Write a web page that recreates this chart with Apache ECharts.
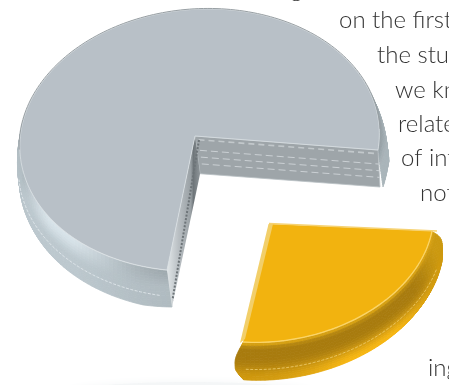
<!DOCTYPE html>
<html>
<head>
<meta charset="utf-8">
<style>html,body{margin:0;padding:0;background:#fff;overflow:hidden}#c{width:449px;height:385px}</style>
<script src="https://cdn.jsdelivr.net/npm/echarts@6/dist/echarts.min.js"></script>
</head>
<body>
<div id="c"></div>
<script>
// Two-slice solid pie with an exploded wedge, and the body copy running behind it.
const sliceNames = ['Remainder', 'Highlighted share'];
const sliceShares = [75, 25];
const copyLines = ['g', 'on the first', 'the stud', 'we kn', 'relate', 'of int', 'not', 'ing'];

const TAU = Math.PI * 2;
// Slices run clockwise on screen; the highlighted share starts on the +u axis.
const shareTotal = sliceShares.reduce((a, b) => a + b, 0);
function sliceSweep(i) {
  const sweep = sliceShares[i] / shareTotal * 360;
  // The highlighted wedge occupies the gap left by the remainder.
  return i === 1 ? [0, sweep] : [360 - sweep, 360];
}

const views = [
  { c: [195, 136], u: [183, 14], v: [-28, 134], t: [5, 37], p: -0.03, q: -0.028, bulge: 0.028, taper: 9, ext: 0 },
  { c: [270, 224], u: [162, 7], v: [-27, 118], t: [2, 34], p: -0.02, q: -0.02, bulge: 0.05, taper: 0, ext: 2.6 }
];

function project(view, deg, s, d) {
  const a = deg * TAU / 360;
  const cu = Math.cos(a) * s, cv = Math.sin(a) * s;
  const w = 1 + view.p * cu + view.q * cv;
  const ku = (1 + view.p) / w, kv = (1 + view.q) / w;
  return [
    view.c[0] + cu * view.u[0] * ku + cv * view.v[0] * kv + view.t[0] * d,
    view.c[1] + cu * view.u[1] * ku + cv * view.v[1] * kv + view.t[1] * d
  ];
}

function rgbOf(c) {
  return Array.isArray(c) ? c : [1, 3, 5].map(i => parseInt(c.substr(i, 2), 16));
}
function mixRaw(a, b, k) {
  k = Math.max(0, Math.min(1, k));
  const x = rgbOf(a), y = rgbOf(b);
  return x.map((v, i) => v + (y[i] - v) * k);
}
function css(c) { return 'rgb(' + c.map(Math.round).join(',') + ')'; }
function smooth(a, b, x) {
  const k = Math.max(0, Math.min(1, (x - a) / (b - a)));
  return k * k * (3 - 2 * k);
}
function bump(x, m, w) { return Math.exp(-Math.pow((x - m) / w, 2)); }

// Cross-section of the rim: radial swell against fraction of the height.
function rimSection(k) {
  const swell = Math.sin(Math.min(1, k / 0.55) * Math.PI / 2);
  const tuck = smooth(0.88, 1, k);
  return { s: swell - 0.35 * tuck, d: 0.02 + k * 0.98 };
}

function rimShadeNeutral(deg, k) {
  const glow = bump(deg, 130, 27);
  const near = mixRaw('#8f999e', '#d8e3e9', 0.1 + 0.95 * glow);
  const far = mixRaw('#a6b0b5', '#bcc8ce', 0.2 + 0.9 * bump(deg, 138, 42));
  return mixRaw(near, far, smooth(0, 0.5, k));
}
function rimShadeGold(deg, k) {
  const glow = bump(deg, 45, 24);
  const deep = mixRaw('#a87b0e', '#cf9c10', smooth(26, 4, deg) * 0.9);
  const low = mixRaw('#c4900d', '#f6b613', 0.2 + 0.95 * glow);
  const lip = mixRaw('#dca514', deep, smooth(0, 0.14, k));
  return mixRaw(lip, low, smooth(0.3, 0.92, k));
}
const shaders = [rimShadeNeutral, rimShadeGold];

// The wedge's ends bow outward mid-height, so their corners read as rounded.
function endBow(k) {
  return Math.sin(Math.min(1, k / 0.45) * Math.PI / 2) * (1 - 0.55 * smooth(0.6, 1, k));
}

function drawRim(i, from, to, kids) {
  const view = views[i];
  const da = 1.5, layers = 16;
  for (let a = from - view.ext; a < to + view.ext; a += da) {
    const b = Math.min(a + da, to + view.ext);
    for (let j = 0; j < layers; j++) {
      const k0 = j / layers, k1 = (j + 1) / layers;
      const pts = [[a, k0], [b, k0], [b, k1], [a, k1]].map(([deg, k]) => {
        const sec = rimSection(k);
        const edge = view.taper ? Math.min(1, Math.min(deg - from, to - deg) / view.taper) : 1;
        const over = view.ext ? Math.max(0, deg - to, from - deg) / view.ext : 0;
        const side = deg > to ? 1 : (deg < from ? -1 : 0);
        const bowed = side === 0 ? deg : (side > 0 ? to : from) + (deg - (side > 0 ? to : from)) * endBow(k);
        const drop = sec.d * (1 - 0.12 * over * over * smooth(0.5, 1, k));
        return project(view, bowed, 1 + view.bulge * sec.s * edge, drop);
      });
      const col = css(shaders[i]((a + b) / 2, (k0 + k1) / 2));
      kids.push({ type: 'polygon', shape: { points: pts },
        style: { fill: col, stroke: col, lineWidth: 0.8 } });
    }
  }
}

function arcPoints(view, from, to, s, d) {
  const pts = [];
  for (let a = from; a <= to + 0.01; a += 1.5) pts.push(project(view, a, s, d));
  return pts;
}

function stitch(view, from, to, s, d, color) {
  return { type: 'polyline', shape: { points: arcPoints(view, from, to, s, d) },
    style: { fill: null, stroke: color, lineWidth: 0.8, lineDash: [3, 1.5] } };
}

function drawNeutral(range, kids) {
  const view = views[0];
  const [from, to] = range;
  drawRim(0, from, to, kids);

  const apex = project(view, 0, 0, 0), apexLow = project(view, 0, 0, 1.02);
  const rimR = project(view, to, 1, 0), rimRLow = project(view, to, 1, 1);
  const rimB = project(view, from, 1, 0), rimBLow = project(view, from, 1, 1);
  rimRLow[0] -= 3; // the far end of the wall leans in slightly under perspective
  const lerp = (a, b, k) => [a[0] + (b[0] - a[0]) * k, a[1] + (b[1] - a[1]) * k];

  // Long cut face, with its horizontal seams.
  kids.push({ type: 'polygon', shape: { points: [apex, rimR, rimRLow, apexLow] },
    style: { fill: '#9ea5a9', stroke: '#b9c0c4', lineWidth: 0.8 } });
  [[0.1, '#c2c8cb', 6, 4, 1.6], [0.38, '#d6dbde', 7, 4, 0.8], [0.56, '#d6dbde', 7, 4, 0.8], [0.74, '#d6dbde', 7, 4, 0.8]].forEach(r => {
    kids.push({ type: 'line', shape: {
      x1: lerp(apex, apexLow, r[0])[0] + 3, y1: lerp(apex, apexLow, r[0])[1],
      x2: lerp(rimR, rimRLow, r[0])[0], y2: lerp(rimR, rimRLow, r[0])[1] },
      style: { stroke: r[1], lineWidth: r[4], lineDash: [r[2], r[3]] } });
  });

  // Short cut face seen at a glancing angle.
  kids.push({ type: 'polygon', shape: { points: [apex, rimB, rimBLow, apexLow] },
    style: { fill: { type: 'linear', x: 0, y: 0, x2: 1, y2: 0, colorStops: [
      { offset: 0, color: '#e1e6e8' }, { offset: 0.35, color: '#b9bfc3' }, { offset: 0.72, color: '#99a0a4' }, { offset: 0.8, color: '#6f767a' }, { offset: 1, color: '#8f969a' }] } } });
  kids.push({ type: 'line', shape: { x1: apex[0] + 4, y1: apex[1] + 4, x2: rimB[0] + 5.5, y2: rimB[1] + 30 },
    style: { stroke: '#6d7478', lineWidth: 2, lineDash: [2, 1.6] } });

  // Stitching on the outer wall.
  kids.push(stitch(view, 93, 165, 1.026, 0.62, '#e4ebef'));

  // Flat top face.
  const top = [apex].concat(arcPoints(view, from, to, 1, 0));
  kids.push({ type: 'polygon', shape: { points: top },
    style: { fill: '#b8c0c7', stroke: '#d9dfe3', lineWidth: 0.8 } });
  // Soft dark lip on the far edge of the top face.
  kids.push({ type: 'polyline', shape: { points: arcPoints(view, 168, 352, 1.004, 0) },
    style: { fill: null, stroke: '#989fa3', lineWidth: 1 } });
}

function drawGold(range, kids) {
  const view = views[1];
  const [from, to] = range;
  drawRim(1, from, to, kids);
  kids.push(stitch(view, 8, 90, 1.05, 0.62, '#f0cf72'));
  const apex = project(view, 0, 0, 0);
  const top = [apex].concat(arcPoints(view, from, to, 1, 0));
  kids.push({ type: 'polygon', shape: { points: top },
    style: { fill: '#f2b30f' } });
  kids.push({ type: 'polyline', shape: { points: arcPoints(view, from, to, 1, 0) },
    style: { fill: null, stroke: '#fbd466', lineWidth: 1.3 } });
  const rimR = project(view, from, 1, 0), rimB = project(view, to, 1, 0);
  kids.push({ type: 'line', shape: { x1: apex[0] - 1, y1: apex[1] - 0.5, x2: rimR[0] + 5, y2: rimR[1] },
    style: { stroke: '#f6d272', lineWidth: 1.4 } });
  kids.push({ type: 'polygon', shape: { points: [[apex[0] - 1.5, apex[1]], [apex[0] + 3, apex[1]], [rimB[0] + 2, rimB[1] - 3], [rimB[0] - 3, rimB[1] + 1]] },
    style: { fill: '#f2cf6a' } });
}

const chart = echarts.init(document.getElementById('c'), null, { renderer: 'canvas' });

const copyX = [290, 339, 377, 395, 398, 401, 420, 428];
const copyY = [-23, 8, 43, 78, 112, 146, 181, 356];

chart.setOption({
  animation: false,
  graphic: {
    elements: copyLines.map((line, i) => ({
      type: 'text', z: 1, x: copyX[i], y: copyY[i],
      style: { text: line, font: '300 24px Lato, "Open Sans", sans-serif', fill: '#333333', textAlign: 'left' }
    })).concat([{
      type: 'ellipse', z: 0, shape: { cx: 190, cy: 394, rx: 125, ry: 12 },
      style: { fill: '#f4f6f7', shadowBlur: 8, shadowColor: '#f4f6f7' }
    }])
  },
  series: [{
    type: 'custom',
    coordinateSystem: 'none',
    z: 5,
    silent: true,
    data: sliceShares.map((v, i) => ({ name: sliceNames[i], value: [v] })),
    renderItem(params) {
      const kids = [];
      const range = sliceSweep(params.dataIndex);
      if (params.dataIndex === 0) drawNeutral(range, kids);
      else drawGold(range, kids);
      return { type: 'group', children: kids };
    }
  }]
});
</script>
</body>
</html>
